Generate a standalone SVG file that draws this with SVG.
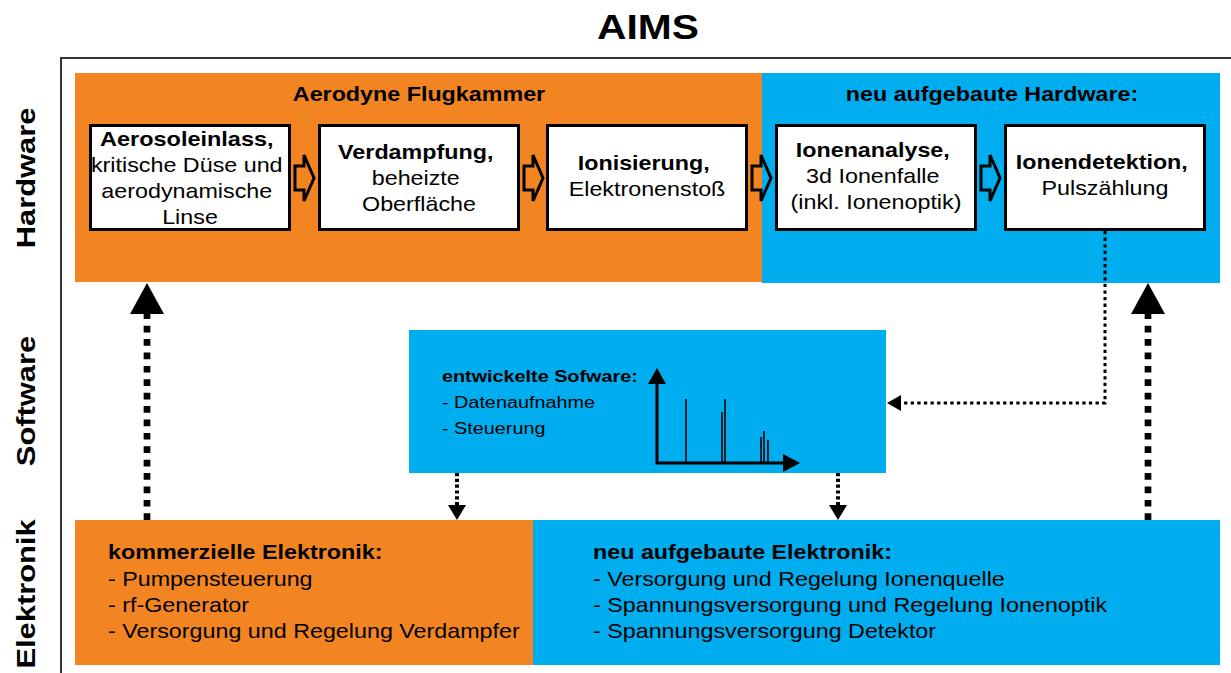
<svg xmlns="http://www.w3.org/2000/svg" width="1231" height="673" viewBox="0 0 1231 673">
  <style>
    text { font-family: "Liberation Sans", Arial, Helvetica, sans-serif; fill: #000; }
    .b { font-weight: bold; }
    .c { text-anchor: middle; }
    .box { fill: #fff; stroke: #000; stroke-width: 3; }
    .orange { fill: #F28522; }
    .blue { fill: #00ADEF; }
    .step { fill: none; stroke: #000; stroke-width: 3; stroke-linejoin: miter; }
    .big { fill: none; stroke: #000; stroke-width: 6.7; stroke-dasharray: 6.7 6.7; }
    .small { fill: none; stroke: #000; stroke-width: 4; stroke-dasharray: 3.2 2.6; }
    .thin { fill: none; stroke: #000; stroke-width: 3; stroke-dasharray: 3.3 3.3; }
    .axis { fill: none; stroke: #000; stroke-width: 3; }
    .peak { fill: none; stroke: #000; stroke-width: 1.6; }
  </style>

  <rect width="1231" height="673" fill="#fff"/>

  <!-- title -->
  <text class="b c" font-size="35" transform="matrix(1.165 0 0 1 648 39)">AIMS</text>

  <!-- outer frame (open to the right and bottom) -->
  <rect x="61" y="58" width="1220" height="700" fill="none" stroke="#333" stroke-width="2"/>

  <!-- row labels -->
  <g id="row-labels">
    <text class="b c" font-size="26.5" transform="translate(35 178) rotate(-90) scale(1.165 1)">Hardware</text>
    <text class="b c" font-size="26.5" transform="translate(35 401) rotate(-90) scale(1.165 1)">Software</text>
    <text class="b c" font-size="26.5" transform="translate(35 594) rotate(-90) scale(1.165 1)">Elektronik</text>
  </g>

  <!-- hardware background areas -->
  <g id="hw-aerodyne">
    <rect class="orange" x="75" y="73" width="687" height="209"/>
    <text class="b c" font-size="20" transform="matrix(1.165 0 0 1 419 101)">Aerodyne Flugkammer</text>
  </g>
  <g id="hw-new">
    <rect class="blue" x="762" y="73" width="458" height="210"/>
    <text class="b c" font-size="20" transform="matrix(1.165 0 0 1 992 101)">neu aufgebaute Hardware:</text>
  </g>

  <!-- hardware stages -->
  <g id="aerosoleinlass">
    <rect class="box" x="90.5" y="125.5" width="199" height="104"/>
    <text class="c" font-size="20" transform="matrix(1.165 0 0 1 190 146)">
      <tspan class="b" x="0" y="0" textLength="149" lengthAdjust="spacingAndGlyphs">Aerosoleinlass,</tspan>
      <tspan x="0" y="26">kritische Düse und</tspan>
      <tspan x="0" y="52">aerodynamische</tspan>
      <tspan x="0" y="78">Linse</tspan>
    </text>
  </g>
  <g id="verdampfung">
    <rect class="box" x="319.5" y="125.5" width="199" height="104"/>
    <text class="c" font-size="20" transform="matrix(1.165 0 0 1 419 159)">
      <tspan class="b" x="0" y="0">Verdampfung,</tspan>
      <tspan x="0" y="26">beheizte</tspan>
      <tspan x="0" y="52">Oberfläche</tspan>
    </text>
  </g>
  <g id="ionisierung">
    <rect class="box" x="547.5" y="125.5" width="199" height="104"/>
    <text class="c" font-size="20" transform="matrix(1.165 0 0 1 647 170)">
      <tspan class="b" x="0" y="0">Ionisierung,</tspan>
      <tspan x="0" y="26">Elektronenstoß</tspan>
    </text>
  </g>
  <g id="ionenanalyse">
    <rect class="box" x="776.5" y="125.5" width="199" height="104"/>
    <text class="c" font-size="20" transform="matrix(1.165 0 0 1 876 157)">
      <tspan class="b" x="0" y="0">Ionenanalyse,</tspan>
      <tspan x="0" y="26">3d Ionenfalle</tspan>
      <tspan x="0" y="52">(inkl. Ionenoptik)</tspan>
    </text>
  </g>
  <g id="ionendetektion">
    <rect class="box" x="1005.5" y="125.5" width="199" height="104"/>
    <text class="c" font-size="20" transform="matrix(1.165 0 0 1 1105 169)">
      <tspan class="b" x="0" y="0">Ionendetektion,</tspan>
      <tspan x="0" y="26">Pulszählung</tspan>
    </text>
  </g>

  <!-- software -->
  <g id="software">
    <rect class="blue" x="409" y="330" width="477" height="143"/>
    <text font-size="17" transform="matrix(1.165 0 0 1 442 382)">
      <tspan class="b" x="0" y="0">entwickelte Sofware:</tspan>
      <tspan x="0" y="26">- Datenaufnahme</tspan>
      <tspan x="0" y="52">- Steuerung</tspan>
    </text>
    <!-- spectrum sketch -->
    <polyline class="axis" points="657,382 657,463 784,463"/>
    <polygon points="657,368 666,384 648,384"/>
    <polygon points="800,463 783,454 783,472"/>
    <path class="peak" d="M686,463V399 M722,463V412 M725,463V399 M761,463V437 M764,463V431 M768,463V440"/>
  </g>

  <!-- electronics -->
  <g id="el-commercial">
    <rect class="orange" x="75" y="520" width="458" height="145"/>
    <text font-size="20" transform="matrix(1.165 0 0 1 108 559)">
      <tspan class="b" x="0" y="0">kommerzielle Elektronik:</tspan>
      <tspan x="0" y="27">- Pumpensteuerung</tspan>
      <tspan x="0" y="53">- rf-Generator</tspan>
      <tspan x="0" y="79">- Versorgung und Regelung Verdampfer</tspan>
    </text>
  </g>
  <g id="el-new">
    <rect class="blue" x="533" y="520" width="687" height="145"/>
    <text font-size="20" transform="matrix(1.165 0 0 1 593 559)">
      <tspan class="b" x="0" y="0">neu aufgebaute Elektronik:</tspan>
      <tspan x="0" y="27">- Versorgung und Regelung Ionenquelle</tspan>
      <tspan x="0" y="53">- Spannungsversorgung und Regelung Ionenoptik</tspan>
      <tspan x="0" y="79">- Spannungsversorgung Detektor</tspan>
    </text>
  </g>

  <!-- connectors -->
  <g id="connectors">
    <!-- process steps -->
    <path class="step" d="M295,166H304V155L314,178L304,201V190H295Z"/>
    <path class="step" d="M524,166H533V155L543,178L533,201V190H524Z"/>
    <path class="step" d="M752,166H761V155L771,178L761,201V190H752Z"/>
    <path class="step" d="M981,166H990V155L1000,178L990,201V190H981Z"/>

    <!-- electronics to hardware -->
    <line class="big" x1="147" y1="520" x2="147" y2="313"/>
    <polygon points="147,283 164,314 130,314"/>
    <line class="big" x1="1148" y1="520" x2="1148" y2="313"/>
    <polygon points="1148,283 1165,314 1131,314"/>

    <!-- detector to software -->
    <polyline class="thin" points="1105,231 1105,403 901,403"/>
    <polygon points="887,403 901,395 901,411"/>

    <!-- software to electronics -->
    <line class="small" x1="457" y1="473" x2="457" y2="505"/>
    <polygon points="457,520 448,505 466,505"/>
    <line class="small" x1="838" y1="473" x2="838" y2="505"/>
    <polygon points="838,520 829,505 847,505"/>
  </g>
</svg>
